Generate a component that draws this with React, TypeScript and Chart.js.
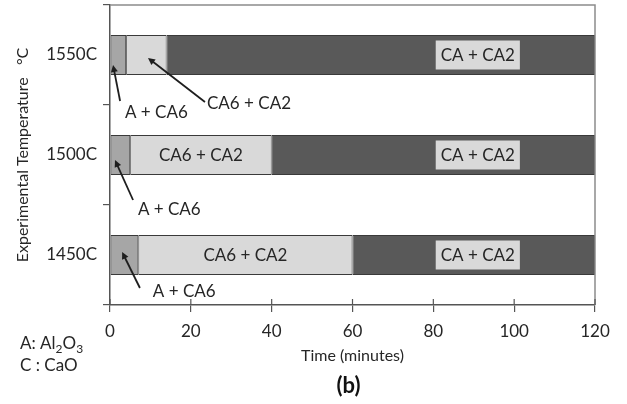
import React, { useEffect, useRef } from "react";
import { Chart, registerables } from "chart.js";

Chart.register(...registerables);

// ---- data ----
const categories = ["1550C", "1500C", "1450C"];
const phaseNames = ["A + CA6", "CA6 + CA2", "CA + CA2"];
const durAandCA6 = [4, 5, 7];
const durCA6andCA2 = [10, 35, 53];
const durCAandCA2 = [106, 80, 60];
const xTickValues = [0, 20, 40, 60, 80, 100, 120];

// labels inside the CA6+CA2 segment (category index)
const insideCA6Labels = [1, 2];
// labelled box position (minutes) for CA + CA2
const caBoxX = 91;
// arrow annotations: category index, text position (minutes, fraction of category step), arrow tail/head
const arrowNotes = [
  { cat: 0, text: "A + CA6", tx: 3.7, ty: 0.58, fx: 2.5, fy: 0.46, hx: 0.75, hy: 0.1 },
  { cat: 0, text: "CA6 + CA2", tx: 24, ty: 0.485, fx: 23.5, fy: 0.47, hx: 9.4, hy: 0.03 },
  { cat: 1, text: "A + CA6", tx: 6.9, ty: 0.55, fx: 5.7, fy: 0.45, hx: 1.24, hy: 0.05 },
  { cat: 2, text: "A + CA6", tx: 10.6, ty: 0.37, fx: 7.4, fy: 0.33, hx: 3.0, hy: -0.03 },
];

const FONT = "Lato, 'Open Sans', sans-serif";
const TEXT = "#262626";

const annotationPlugin = {
  id: "annotations",
  afterDatasetsDraw(chart: any) {
    const { ctx, chartArea, scales } = chart;
    const { left, right, top, bottom } = chartArea;
    const x = scales.x;
    const y = scales.y;
    const step = y.getPixelForValue(1) - y.getPixelForValue(0);
    const py = (cat: number, off: number) => y.getPixelForValue(cat) + off * step;
    ctx.save();

    // frame top/right
    ctx.strokeStyle = "#8c8c8c";
    ctx.lineWidth = 1.5;
    ctx.beginPath();
    ctx.moveTo(left, top);
    ctx.lineTo(right, top);
    ctx.lineTo(right, bottom);
    ctx.stroke();

    // inner x ticks
    ctx.strokeStyle = "#555";
    ctx.lineWidth = 1.2;
    xTickValues.forEach((v) => {
      const px = x.getPixelForValue(v);
      ctx.beginPath();
      ctx.moveTo(px, bottom);
      ctx.lineTo(px, bottom - 6);
      ctx.stroke();
    });

    ctx.font = `17px ${FONT}`;
    ctx.textBaseline = "middle";

    // CA + CA2 boxes
    categories.forEach((_, i) => {
      const cx = x.getPixelForValue(caBoxX);
      const cy = py(i, 0);
      const w = ctx.measureText(phaseNames[2]).width + 10;
      const h = 29;
      ctx.fillStyle = "#d9d9d9";
      ctx.fillRect(cx - w / 2, cy - h / 2, w, h);
      ctx.fillStyle = TEXT;
      ctx.textAlign = "center";
      ctx.fillText(phaseNames[2], cx, cy + 1);
    });

    // inside CA6 + CA2 labels
    insideCA6Labels.forEach((i) => {
      const start = durAandCA6[i];
      const end = durAandCA6[i] + durCA6andCA2[i];
      const cx = x.getPixelForValue((start + end) / 2);
      ctx.fillStyle = TEXT;
      ctx.textAlign = "center";
      ctx.fillText(phaseNames[1], cx, py(i, 0) + 1);
    });

    // arrows with labels
    arrowNotes.forEach((n) => {
      const x1 = x.getPixelForValue(n.fx);
      const y1 = py(n.cat, n.fy);
      const x2 = x.getPixelForValue(n.hx);
      const y2 = py(n.cat, n.hy);
      ctx.strokeStyle = "#1e1e1e";
      ctx.fillStyle = "#1e1e1e";
      ctx.lineWidth = 1.8;
      const ang = Math.atan2(y2 - y1, x2 - x1);
      const L = 7;
      const W = 3.5;
      ctx.beginPath();
      ctx.moveTo(x1, y1);
      ctx.lineTo(x2 - Math.cos(ang) * L * 0.6, y2 - Math.sin(ang) * L * 0.6);
      ctx.stroke();
      ctx.beginPath();
      ctx.moveTo(x2, y2);
      ctx.lineTo(x2 - Math.cos(ang) * L - Math.sin(ang) * W, y2 - Math.sin(ang) * L + Math.cos(ang) * W);
      ctx.lineTo(x2 - Math.cos(ang) * L + Math.sin(ang) * W, y2 - Math.sin(ang) * L - Math.cos(ang) * W);
      ctx.closePath();
      ctx.fill();
      ctx.fillStyle = TEXT;
      ctx.textAlign = "left";
      ctx.fillText(n.text, x.getPixelForValue(n.tx), py(n.cat, n.ty));
    });

    // notes bottom-left
    const drawSub = (parts: [string, boolean][], sx: number, sy: number) => {
      let cx = sx;
      parts.forEach(([t, sub]) => {
        ctx.font = sub ? `12px ${FONT}` : `17px ${FONT}`;
        ctx.fillText(t, cx, sub ? sy + 5 : sy);
        cx += ctx.measureText(t).width;
      });
    };
    ctx.fillStyle = TEXT;
    ctx.textAlign = "left";
    drawSub([["A: Al", false], ["2", true], ["O", false], ["3", true]], 20, 344);
    drawSub([["C : CaO", false]], 20, 366);

    // (b)
    ctx.font = `bold 22px ${FONT}`;
    ctx.textAlign = "center";
    ctx.fillStyle = "#111";
    ctx.fillText("(b)", x.getPixelForValue(60) - 4, 386);

    ctx.restore();
  },
};

export default function App() {
  const ref = useRef<HTMLCanvasElement | null>(null);

  useEffect(() => {
    document.body.style.margin = "0";
    const canvas = ref.current;
    if (!canvas) return;
    const border = "#3a3a3a";
    const chart = new Chart(canvas, {
      type: "bar",
      data: {
        labels: categories,
        datasets: [
          { label: phaseNames[0], data: durAandCA6, backgroundColor: "#a6a6a6", borderColor: border, borderWidth: 1, borderSkipped: false },
          { label: phaseNames[1], data: durCA6andCA2, backgroundColor: "#d9d9d9", borderColor: border, borderWidth: 1, borderSkipped: false },
          { label: phaseNames[2], data: durCAandCA2, backgroundColor: "#595959", borderColor: border, borderWidth: 1, borderSkipped: false },
        ],
      },
      options: {
        indexAxis: "y",
        responsive: false,
        animation: false,
        layout: { padding: { top: 5, right: 32, left: 0, bottom: 0 } },
        datasets: { bar: { barPercentage: 0.4, categoryPercentage: 1 } },
        plugins: { legend: { display: false }, tooltip: { enabled: false } },
        scales: {
          x: {
            type: "linear",
            stacked: true,
            min: 0,
            max: 120,
            afterFit: (s: any) => { s.height = 99; s.paddingLeft = 0; s.paddingRight = 0; },
            afterBuildTicks: (s: any) => { s.ticks = xTickValues.map((v) => ({ value: v })); },
            ticks: { font: { family: FONT, size: 17 }, color: TEXT, padding: 9 },
            grid: { drawOnChartArea: false, drawTicks: true, tickLength: 7, color: "#555", lineWidth: 1.2 },
            border: { display: true, color: "#555", width: 1.5 },
            title: {
              display: true,
              text: "Time (minutes)",
              font: { family: FONT, size: 16 },
              color: TEXT,
              padding: { top: 0, bottom: 39 },
            },
          },
          y: {
            type: "category",
            stacked: true,
            afterFit: (s: any) => { s.width = 110; s.paddingTop = 0; s.paddingBottom = 0; },
            ticks: { font: { family: FONT, size: 17 }, color: TEXT, padding: 6 },
            grid: { offset: true, drawOnChartArea: false, drawTicks: true, tickLength: 7, color: "#555", lineWidth: 1.2 },
            border: { display: true, color: "#555", width: 1.5 },
            title: {
              display: true,
              text: "Experimental Temperature   °C",
              font: { family: FONT, size: 16 },
              color: TEXT,
              padding: { top: 13, bottom: 0 },
            },
          },
        },
      },
      plugins: [annotationPlugin],
    } as any);
    return () => chart.destroy();
  }, []);

  return <canvas ref={ref} width={627} height={404} style={{ display: "block" }} />;
}
